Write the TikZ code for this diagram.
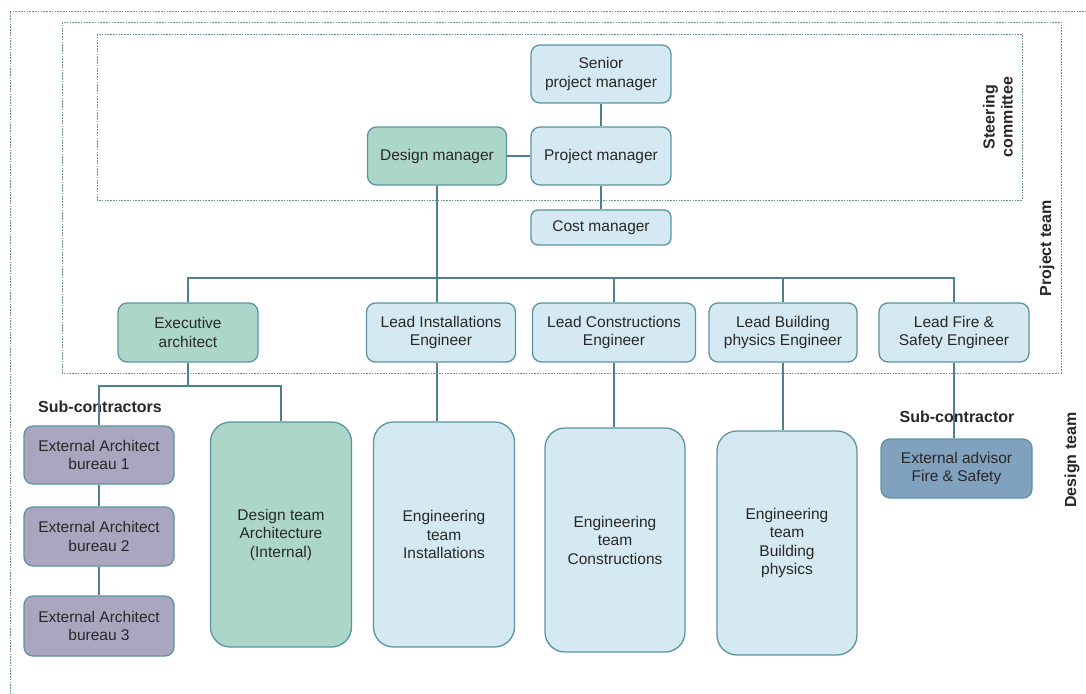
\documentclass[tikz,border=0pt]{standalone}
\usepackage{fontspec}
\setmainfont{Liberation Sans}
\begin{document}
\definecolor{boxline}{RGB}{92,148,163}
\definecolor{conn}{RGB}{78,128,145}
\definecolor{frameline}{RGB}{105,145,155}
\definecolor{lblue}{RGB}{212,233,241}
\definecolor{lgreen}{RGB}{172,215,200}
\definecolor{lpurple}{RGB}{170,166,192}
\definecolor{sblue}{RGB}{128,162,190}
\definecolor{ink}{RGB}{40,40,40}
\tikzset{
  box/.style={draw=boxline, line width=1.3pt, rounded corners=9pt, align=center,
    inner sep=2pt, text=ink, font=\fontsize{15.5}{18.5}\selectfont},
  bluebox/.style={box, fill=lblue},
  greenbox/.style={box, fill=lgreen},
  purplebox/.style={box, fill=lpurple},
  advbox/.style={box, fill=sblue},
  tallbox/.style={rounded corners=20pt},
  wire/.style={draw=conn, line width=1.4pt},
  frame/.style={draw=frameline, line width=0.7pt, dash pattern=on 1.6pt off 1.2pt},
  grouplabel/.style={font=\bfseries\fontsize{16}{18}\selectfont, text=ink, align=center},
}
\begin{tikzpicture}[x=1pt, y=-1pt]
\useasboundingbox[fill=white] (0,0) rectangle (1086,693);
\clip (0,0) rectangle (1086,693);

% group frames
\draw[frame] (10,700) -- (10,11) -- (1100,11);
\draw[frame] (62,22) rectangle (1061,373);
\draw[frame] (97,34) rectangle (1022,200);

% steering committee
\node[bluebox, minimum width=140pt, minimum height=58pt] (sen) at (601,74) {Senior\\project manager};
\node[bluebox, minimum width=140pt, minimum height=58pt] (pm) at (601,156) {Project manager};
\node[greenbox, minimum width=139pt, minimum height=58pt] (dm) at (437,156) {Design manager};
\node[bluebox, minimum width=140pt, minimum height=35pt, rounded corners=7pt] (cost) at (601,227.5) {Cost manager};

% leads
\node[greenbox, minimum width=140pt, minimum height=59pt] (ea) at (188,332.5) {Executive\\architect};
\node[bluebox, minimum width=149pt, minimum height=59pt] (li) at (441,332.5) {Lead Installations\\Engineer};
\node[bluebox, minimum width=163pt, minimum height=59pt] (lc) at (614,332.5) {Lead Constructions\\Engineer};
\node[bluebox, minimum width=148pt, minimum height=59pt] (lb) at (783,332.5) {Lead Building\\physics Engineer};
\node[bluebox, minimum width=150pt, minimum height=59pt] (lf) at (954,332.5) {Lead Fire \&\\Safety Engineer};

% design team
\node[purplebox, minimum width=150pt, minimum height=58pt] (eb1) at (99,455) {External Architect\\bureau 1};
\node[purplebox, minimum width=150pt, minimum height=59pt] (eb2) at (99,536.5) {External Architect\\bureau 2};
\node[purplebox, minimum width=150pt, minimum height=60pt] (eb3) at (99,626) {External Architect\\bureau 3};
\node[greenbox, tallbox, minimum width=141pt, minimum height=225pt] (dta) at (281,534.5) {Design team\\Architecture\\(Internal)};
\node[bluebox, tallbox, minimum width=141pt, minimum height=225pt] (eti) at (444,534.5) {Engineering\\team\\Installations};
\node[bluebox, tallbox, minimum width=140pt, minimum height=224pt] (etc) at (615,540) {Engineering\\team\\Constructions};
\node[bluebox, tallbox, minimum width=140pt, minimum height=224pt] (etb) at (787,543) {Engineering\\team\\Building\\physics};
\node[advbox, minimum width=151pt, minimum height=59pt] (ext) at (956.5,468.5) {External advisor\\Fire \& Safety};

% labels
\node[grouplabel] (subs) at (100,407) {Sub-contractors};
\node[grouplabel] (sub) at (957,417) {Sub-contractor};
\node[grouplabel, rotate=90] (steer) at (998,117) {Steering\\committee};
\node[grouplabel, rotate=90] (pteam) at (1047,248) {Project team};
\node[grouplabel, rotate=90] (dteam) at (1072,460) {Design team};

% connectors
\coordinate (bus) at (0,278);
\coordinate (subbus) at (0,386);
\draw[wire] (sen) -- (pm);
\draw[wire] (dm) -- (pm);
\draw[wire] (pm) -- (cost);
\draw[wire] (dm.south) -- (dm.south |- li.north);
\draw[wire] (ea.north) -- (ea.north |- bus) -- (lf.north |- bus) -- (lf.north);
\draw[wire] (lc.north) -- (lc.north |- bus);
\draw[wire] (lb.north) -- (lb.north |- bus);
\draw[wire] (ea.south) -- (ea.south |- subbus);
\draw[wire] (eb1.north) -- (eb1.north |- subbus) -- (dta.north |- subbus) -- (dta.north);
\draw[wire] (eb1) -- (eb2);
\draw[wire] (eb2) -- (eb3);
\draw[wire] (li.south -| dm.south) -- (eti.north -| dm.south);
\draw[wire] (lc.south) -- (lc.south |- etc.north);
\draw[wire] (lb.south) -- (lb.south |- etb.north);
\draw[wire] (lf.south) -- (lf.south |- ext.north);
\end{tikzpicture}
\end{document}
